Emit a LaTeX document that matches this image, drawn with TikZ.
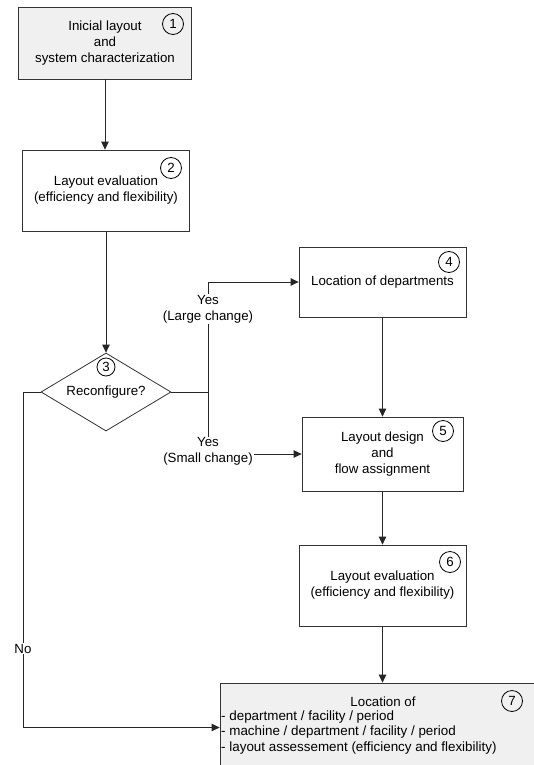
\documentclass[tikz,border=0pt]{standalone}
\usepackage{fontspec}
\setmainfont{Liberation Sans}
\usetikzlibrary{shapes.geometric,arrows.meta}
\begin{document}
\begin{tikzpicture}[x=1pt,y=-1pt,
  every node/.style={font=\fontsize{13.3}{16}\selectfont},
  box/.style={draw=black!80, line width=0.8pt, rectangle, align=center, inner sep=0pt},
  grey/.style={fill=black!6},
  num/.style={draw=black, circle, minimum size=21pt, inner sep=0pt, line width=0.8pt},
  conn/.style={draw=black!85, line width=0.8pt},
  arr/.style={conn, -{Triangle[length=8pt,width=7.5pt]}},
  lbl/.style={fill=white, align=center, inner sep=1pt}]
\useasboundingbox (0,0) rectangle (534,765);
\clip (0,0) rectangle (534,765);
% boxes
\node[box,grey,minimum width=173pt,minimum height=72pt] (b1) at (105,43) {Inicial layout\\and\\system characterization};
\node[box,minimum width=167pt,minimum height=81pt] (b2) at (106,190.5) {Layout evaluation\\(efficiency and flexibility)};
\node[draw=black!80, line width=0.8pt, diamond, minimum width=130pt, minimum height=78pt, inner sep=0pt] (dia) at (106,392) {};
\node (dtext) at (106,392) {Reconfigure?};
\node[box,minimum width=167pt,minimum height=70pt] (b4) at (382.5,282) {Location of departments};
\node[box,minimum width=161pt,minimum height=74pt] (b5) at (382.5,454) {Layout design\\and\\flow assignment};
\node[box,minimum width=167pt,minimum height=81pt] (b6) at (382.5,585.5) {Layout evaluation\\(efficiency and flexibility)};
\node[box,grey,minimum width=380pt,minimum height=89pt] (b7) at (410,727.5) {};
\node (t7) at (383,702) {Location of};
\node[anchor=west, inner sep=0pt, font=\fontsize{13.4}{15.5}\selectfont, align=left] (l7) at (221,732.5) {- department / facility / period\\- machine / department / facility / period\\- layout assessement (efficiency and flexibility)};
% numbers
\node[num] (c1) at (173,24) {1};
\node[num] (c2) at (171,168) {2};
\node[num,minimum size=18pt] (c3) at (106,367) {3};
\node[num] (c4) at (449,262) {4};
\node[num] (c5) at (443,431) {5};
\node[num] (c6) at (450,562) {6};
\node[num] (c7) at (512,701) {7};
% connectors
\draw[arr] (b1.south) -- (b1.south |- b2.north);
\draw[arr] (b2.south) -- (dia.north);
\draw[conn] (dia.east) -- (208,392) coordinate (j);
\draw[arr] (j) |- (b4.west);
\draw[arr] (j) |- (b5.west);
\draw[arr] (b4.south) -- (b5.north);
\draw[arr] (b5.south) -- (b6.north);
\draw[arr] (b6.south) -- (b6.south |- b7.north);
\draw[conn] (dia.west) -- (23,392) coordinate (k);
\draw[arr] (k) |- (b7.west);
% labels
\node[lbl] (yl) at (208,309) {Yes\\(Large change)};
\node[lbl] (ys) at (208,451.5) {Yes\\(Small change)};
\node[lbl] (no) at (23,648.5) {No};
\end{tikzpicture}
\end{document}
